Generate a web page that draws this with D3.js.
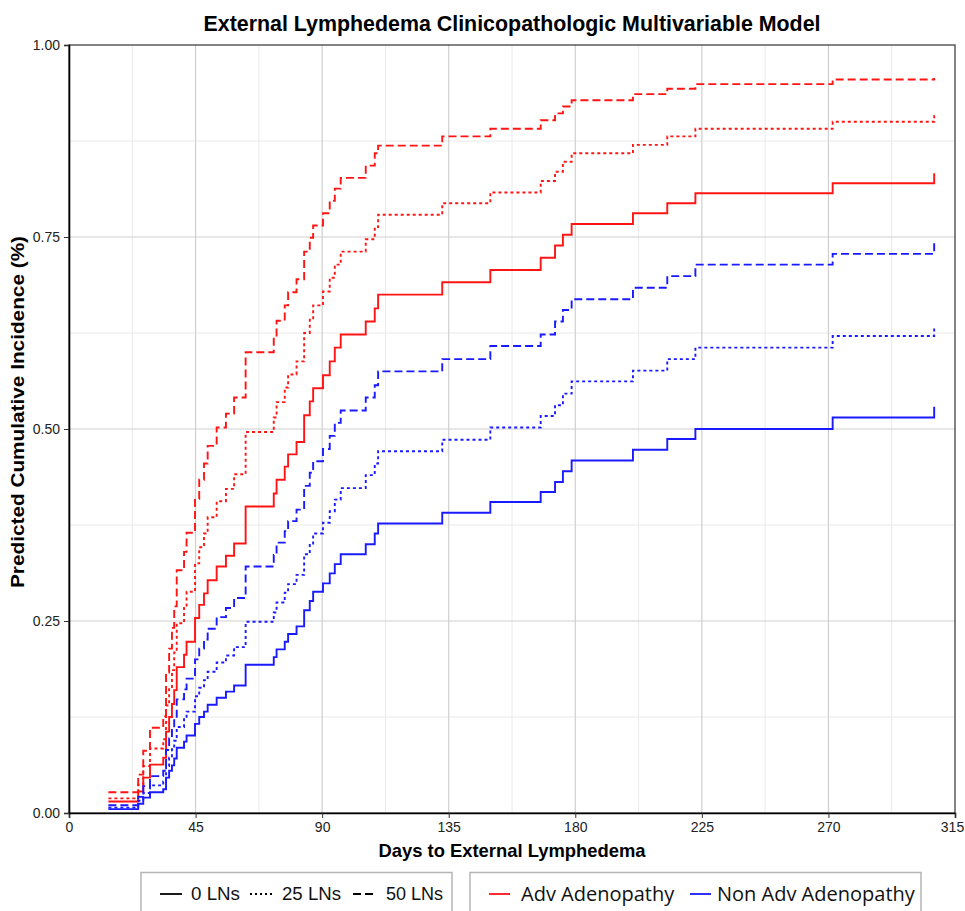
<!DOCTYPE html>
<html>
<head>
<meta charset="utf-8">
<script src="https://cdn.jsdelivr.net/npm/d3@7"></script>
<style>
    body { margin: 0; background: #fff; }
    .narrow { font-family: "Liberation Sans Narrow", "Liberation Sans", Arial, sans-serif; }
    .tick text { font-family: "Liberation Sans Narrow", "Liberation Sans", Arial, sans-serif; font-size: 14px; fill: #222; }
    .tick line { stroke: #333; }
    .gridMajor { stroke: #cfcfcf; stroke-width: 1.2; }
    .gridMinor { stroke: #e8e8e8; stroke-width: 0.9; }
    .curve { fill: none; stroke-width: 1.9; }
</style>
</head>
<body>
<script>
(function () {

    //event times (days) shared by every model curve
    var days = [14, 24.6, 26.4, 28.8, 33.5, 34.5, 35.6, 36.6, 37.4, 38.3, 40.9, 41.8, 44.8, 46.3, 48, 49.3,
        52.5, 55.8, 58.7, 62.8, 72.8, 73.8, 76.7, 77.9, 80.9, 83.6, 85.6, 86.8, 90.3, 92.7, 94.5, 96.6,
        105.5, 108.7, 109.9, 132.7, 149.8, 167.7, 172.8, 175.6, 178.7, 200.5, 212.7, 222.7, 271.5, 307.6];

    //predicted cumulative incidence, adv adenopathy
    var adv0 = [0.015, 0.028, 0.046, 0.063, 0.072, 0.106, 0.125, 0.142, 0.160, 0.190, 0.206, 0.223, 0.254, 0.271, 0.286, 0.303,
        0.321, 0.335, 0.351, 0.399, 0.416, 0.434, 0.451, 0.467, 0.483, 0.518, 0.536, 0.553, 0.570, 0.588, 0.606, 0.623,
        0.640, 0.657, 0.675, 0.691, 0.707, 0.723, 0.739, 0.753, 0.767, 0.781, 0.794, 0.807, 0.820, 0.833];
    var adv25 = [0.019, 0.037, 0.061, 0.084, 0.096, 0.140, 0.164, 0.186, 0.209, 0.247, 0.267, 0.288, 0.325, 0.346, 0.364, 0.385,
        0.406, 0.422, 0.441, 0.496, 0.515, 0.535, 0.554, 0.571, 0.588, 0.625, 0.644, 0.661, 0.679, 0.697, 0.714, 0.731,
        0.747, 0.763, 0.779, 0.794, 0.808, 0.823, 0.835, 0.848, 0.859, 0.870, 0.881, 0.891, 0.900, 0.910];
    var adv50 = [0.027, 0.050, 0.081, 0.111, 0.126, 0.183, 0.214, 0.241, 0.269, 0.316, 0.340, 0.365, 0.409, 0.434, 0.455, 0.478,
        0.502, 0.520, 0.541, 0.600, 0.620, 0.641, 0.661, 0.678, 0.695, 0.731, 0.749, 0.765, 0.781, 0.797, 0.813, 0.827,
        0.843, 0.859, 0.869, 0.881, 0.891, 0.902, 0.911, 0.920, 0.928, 0.936, 0.943, 0.949, 0.955, 0.957];

    //predicted cumulative incidence, non adv adenopathy
    var non0 = [0.005, 0.012, 0.020, 0.027, 0.031, 0.046, 0.055, 0.062, 0.071, 0.085, 0.093, 0.101, 0.116, 0.125, 0.132, 0.141,
        0.150, 0.158, 0.166, 0.193, 0.203, 0.213, 0.223, 0.233, 0.243, 0.264, 0.276, 0.288, 0.299, 0.312, 0.324, 0.337,
        0.350, 0.364, 0.377, 0.391, 0.405, 0.418, 0.431, 0.445, 0.459, 0.473, 0.487, 0.500, 0.515, 0.529];
    var non25 = [0.007, 0.016, 0.026, 0.036, 0.041, 0.061, 0.072, 0.083, 0.094, 0.112, 0.122, 0.132, 0.152, 0.163, 0.173, 0.184,
        0.196, 0.205, 0.216, 0.249, 0.261, 0.274, 0.287, 0.298, 0.310, 0.337, 0.351, 0.364, 0.378, 0.393, 0.408, 0.423,
        0.440, 0.455, 0.471, 0.486, 0.502, 0.517, 0.531, 0.546, 0.562, 0.576, 0.591, 0.606, 0.621, 0.633];
    var non50 = [0.010, 0.021, 0.035, 0.048, 0.055, 0.082, 0.097, 0.110, 0.124, 0.148, 0.161, 0.175, 0.200, 0.214, 0.226, 0.240,
        0.255, 0.267, 0.280, 0.321, 0.336, 0.352, 0.367, 0.380, 0.395, 0.426, 0.443, 0.458, 0.474, 0.491, 0.508, 0.524,
        0.541, 0.557, 0.575, 0.591, 0.608, 0.623, 0.640, 0.655, 0.669, 0.684, 0.699, 0.714, 0.728, 0.744];

    var xTicks = [0, 45, 90, 135, 180, 225, 270, 315];
    var xMinor = [22.5, 67.5, 112.5, 157.5, 202.5, 247.5, 292.5];
    var yTicks = [0, 0.25, 0.5, 0.75, 1];
    var yMinor = [0.125, 0.375, 0.625, 0.875];

    var lnLabels = ["0 LNs", "25 LNs", "50 LNs"];
    var groupLabels = ["Adv Adenopathy", "Non Adv Adenopathy"];

    var series = [
        { vals: adv0, group: 0, ln: 0 },
        { vals: adv25, group: 0, ln: 1 },
        { vals: adv50, group: 0, ln: 2 },
        { vals: non0, group: 1, ln: 0 },
        { vals: non25, group: 1, ln: 1 },
        { vals: non50, group: 1, ln: 2 }
    ];

    var colors = ["#ff1414", "#1a1aff"];
    var dashes = [null, "3,3", "8,4"];

    var width = 965,
        height = 911,
        margin = { top: 45, right: 10, bottom: 98, left: 69 };

    var svg = d3.select("body")
        .append("svg")
        .attr("width", width)
        .attr("height", height);

    var x = d3.scaleLinear()
        .domain([0, 315])
        .range([margin.left, width - margin.right]);

    var y = d3.scaleLinear()
        .domain([0, 1])
        .range([height - margin.bottom, margin.top]);

    //grid lines, minor first
    svg.selectAll(".gxMinor")
        .data(xMinor).enter().append("line")
        .attr("class", "gridMinor")
        .attr("x1", function (d) { return x(d); }).attr("x2", function (d) { return x(d); })
        .attr("y1", y(0)).attr("y2", y(1));
    svg.selectAll(".gyMinor")
        .data(yMinor).enter().append("line")
        .attr("class", "gridMinor")
        .attr("y1", function (d) { return y(d); }).attr("y2", function (d) { return y(d); })
        .attr("x1", x(0)).attr("x2", x(315));
    svg.selectAll(".gxMajor")
        .data(xTicks.slice(1, -1)).enter().append("line")
        .attr("class", "gridMajor")
        .attr("x1", function (d) { return x(d); }).attr("x2", function (d) { return x(d); })
        .attr("y1", y(0)).attr("y2", y(1));
    svg.selectAll(".gyMajor")
        .data(yTicks.slice(1, -1)).enter().append("line")
        .attr("class", "gridMajor")
        .attr("y1", function (d) { return y(d); }).attr("y2", function (d) { return y(d); })
        .attr("x1", x(0)).attr("x2", x(315));

    //step curves
    var line = d3.line()
        .curve(d3.curveStepAfter)
        .x(function (d) { return x(d[0]); })
        .y(function (d) { return y(d[1]); });

    svg.selectAll(".curve")
        .data(series)
        .enter()
        .append("path")
        .attr("class", "curve")
        .attr("d", function (s) {
            return line(days.map(function (t, i) { return [t, s.vals[i]]; }));
        })
        .attr("stroke", function (s) { return colors[s.group]; })
        .attr("stroke-dasharray", function (s) { return dashes[s.ln]; });

    //panel border
    svg.append("rect")
        .attr("x", x(0)).attr("y", y(1))
        .attr("width", x(315) - x(0)).attr("height", y(0) - y(1))
        .attr("fill", "none").attr("stroke", "#333").attr("stroke-width", 1.2);

    //axes
    var xAxis = svg.append("g")
        .attr("transform", "translate(0," + y(0) + ")")
        .call(d3.axisBottom(x).tickValues(xTicks).tickSize(5).tickPadding(4));
    xAxis.select(".domain").attr("stroke", "#000").attr("stroke-width", 1.6);
    //keep the last label inside the frame
    xAxis.selectAll(".tick text")
        .filter(function (d) { return d === 315; })
        .attr("dx", -3);

    var yAxis = svg.append("g")
        .attr("transform", "translate(" + x(0) + ",0)")
        .call(d3.axisLeft(y).tickValues(yTicks).tickFormat(d3.format(".2f")).tickSize(5).tickPadding(4));
    yAxis.select(".domain").attr("stroke", "#000").attr("stroke-width", 1.6);

    //titles
    svg.append("text")
        .attr("class", "narrow")
        .attr("x", 512).attr("y", 31)
        .attr("text-anchor", "middle")
        .attr("font-size", 22).attr("font-weight", "bold")
        .attr("textLength", 617).attr("lengthAdjust", "spacingAndGlyphs")
        .text("External Lymphedema Clinicopathologic Multivariable Model");

    svg.append("text")
        .attr("class", "narrow")
        .attr("x", 512).attr("y", 857)
        .attr("text-anchor", "middle")
        .attr("font-size", 19).attr("font-weight", "bold")
        .attr("textLength", 267).attr("lengthAdjust", "spacingAndGlyphs")
        .text("Days to External Lymphedema");

    svg.append("text")
        .attr("class", "narrow")
        .attr("transform", "translate(24,412) rotate(-90)")
        .attr("text-anchor", "middle")
        .attr("font-size", 19).attr("font-weight", "bold")
        .attr("textLength", 352).attr("lengthAdjust", "spacingAndGlyphs")
        .text("Predicted Cumulative Incidence (%)");

    //legends at the bottom
    var keyY = 894;

    svg.append("rect")
        .attr("x", 141).attr("y", 872.5).attr("width", 311).attr("height", 60)
        .attr("fill", "none").attr("stroke", "#b5b5b5").attr("stroke-width", 1.5);
    svg.append("rect")
        .attr("x", 470).attr("y", 872.5).attr("width", 451).attr("height", 60)
        .attr("fill", "none").attr("stroke", "#b5b5b5").attr("stroke-width", 1.5);

    var lnKeyX = [160, 250, 353],
        lnTextX = [191, 282, 386];
    lnLabels.forEach(function (lab, i) {
        svg.append("line")
            .attr("x1", lnKeyX[i]).attr("x2", lnKeyX[i] + 22)
            .attr("y1", keyY).attr("y2", keyY)
            .attr("stroke", "#000").attr("stroke-width", 1.8)
            .attr("stroke-dasharray", i === 1 ? "2,3" : dashes[i]);
        svg.append("text")
            .attr("x", lnTextX[i]).attr("y", 900)
            .attr("font-family", "'Liberation Sans', Arial, sans-serif")
            .attr("font-size", 18).attr("fill", "#111")
            .attr("textLength", [49, 59, 57][i]).attr("lengthAdjust", "spacingAndGlyphs")
            .text(lab);
    });

    var grpKeyX = [489, 690],
        grpTextX = [521, 717];
    groupLabels.forEach(function (lab, i) {
        svg.append("line")
            .attr("x1", grpKeyX[i]).attr("x2", grpKeyX[i] + 21)
            .attr("y1", keyY).attr("y2", keyY)
            .attr("stroke", colors[i]).attr("stroke-width", 1.8);
        svg.append("text")
            .attr("x", grpTextX[i]).attr("y", 901)
            .attr("font-family", "'Open Sans', 'Noto Sans', sans-serif")
            .attr("font-size", 20).attr("fill", "#111")
            .text(lab);
    });
})();
</script>
</body>
</html>
